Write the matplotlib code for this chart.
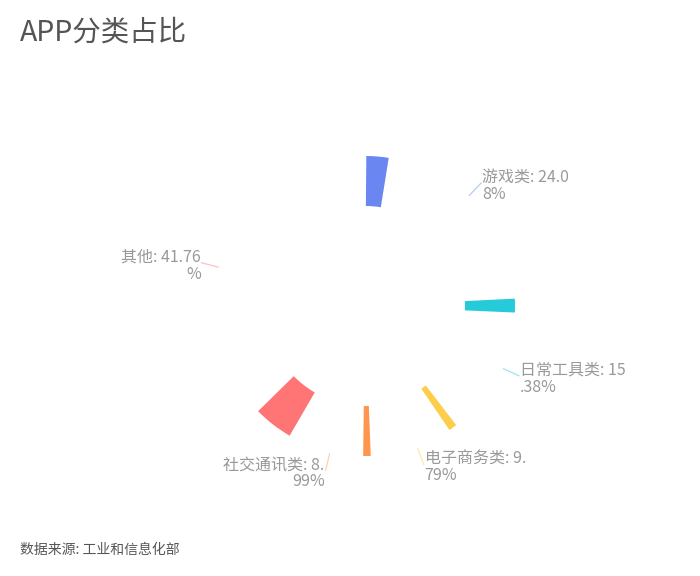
import numpy as np
import matplotlib
matplotlib.use("Agg")
import matplotlib.pyplot as plt
from matplotlib.patches import Wedge

plt.rcParams['font.family'] = ['Noto Sans CJK SC', 'DejaVu Sans']

names = ["游戏类", "日常工具类", "电子商务类", "社交通讯类", "其他"]
values = [24.08, 15.38, 9.79, 8.99, 41.76]
label_texts = ["游戏类: 24.0\n8%", "日常工具类: 15\n.38%", "电子商务类: 9.\n79%",
               "社交通讯类: 8.\n99%", "其他: 41.76\n%"]
colors = ["#6a87f1", "#25cbd8", "#fdcd4c", "#ff964d", "#ff7474"]

W, H = 700, 576
fig = plt.figure(figsize=(7, 5.76), dpi=100)
ax = fig.add_axes([0, 0, 1, 1])
ax.set_xlim(0, W)
ax.set_ylim(0, H)
ax.axis("off")

cx, cy = 365, H - 306
r_in, r_out = 100, 150
frac = 0.105  # portion of each slice shown (captured mid-animation)

total = sum(values)
start = 90.0
for name, v, txt, c in zip(names, values, label_texts, colors):
    span = v / total * 360
    end = start - span
    ax.add_patch(Wedge((cx, cy), r_out, start - span * frac, start - 0.5,
                       width=r_out - r_in, color=c, lw=0))
    mid = np.deg2rad((start + end) / 2)
    x0, y0 = cx + 152 * np.cos(mid), cy + 152 * np.sin(mid)
    x1, y1 = cx + 169 * np.cos(mid), cy + 169 * np.sin(mid)
    ax.plot([x0, x1], [y0, y1], color=c, alpha=0.45, lw=0.9)
    if np.cos(mid) >= 0:
        ax.text(x1 + 1, y1 - 3, txt, ha="left", va="center", fontsize=11.5,
                color="#999999", linespacing=1.0, multialignment="left")
    else:
        ax.text(x1 - 1, y1 - 3, txt, ha="right", va="center", fontsize=11.5,
                color="#999999", linespacing=1.0, multialignment="right")
    start = end

fig.text(20 / W, 1 - 33 / H, "APP分类占比", fontsize=20.5, color="#555555",
         ha="left", va="center")
fig.text(20 / W, 1 - 550 / H, "数据来源: 工业和信息化部", fontsize=10,
         color="#555555", ha="left", va="center")

fig.savefig("out.png", dpi=100, facecolor="white")
